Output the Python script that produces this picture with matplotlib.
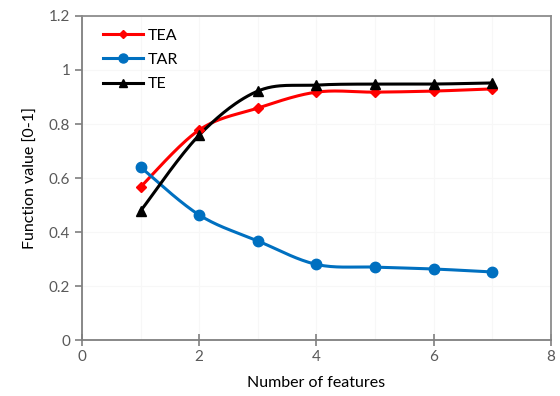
import numpy as np
import matplotlib
matplotlib.use("Agg")
import matplotlib.pyplot as plt

plt.rcParams["font.family"] = ["Lato", "DejaVu Sans"]

n_features = [1, 2, 3, 4, 5, 6, 7]
tea = [0.567, 0.778, 0.859, 0.918, 0.918, 0.922, 0.930]
tar = [0.640, 0.463, 0.367, 0.280, 0.270, 0.263, 0.252]
te = [0.478, 0.759, 0.922, 0.944, 0.948, 0.948, 0.952]

x_ticks = [0, 2, 4, 6, 8]
y_ticks = [0, 0.2, 0.4, 0.6, 0.8, 1.0, 1.2]
y_labels = ["0", "0.2", "0.4", "0.6", "0.8", "1", "1.2"]


def smooth(x, y, n=30):
    # Excel-style smoothed line: cubic Bezier segments with Catmull-Rom handles
    x = np.asarray(x, float)
    y = np.asarray(y, float)
    pts = np.column_stack([x, y])
    out = [pts[:1]]
    t = np.linspace(0, 1, n)[1:, None]
    for i in range(len(pts) - 1):
        p0 = pts[max(i - 1, 0)]
        p1, p2 = pts[i], pts[i + 1]
        p3 = pts[min(i + 2, len(pts) - 1)]
        c1 = p1 + (p2 - p0) / 6
        c2 = p2 - (p3 - p1) / 6
        seg = ((1 - t) ** 3) * p1 + 3 * ((1 - t) ** 2) * t * c1 \
            + 3 * (1 - t) * t ** 2 * c2 + t ** 3 * p2
        out.append(seg)
    arr = np.vstack(out)
    return arr[:, 0], arr[:, 1]


fig = plt.figure(figsize=(5.6, 3.96), dpi=100)
ax = fig.add_axes([0.1464, 0.1414, 0.8375, 0.8182])

series = [
    ("TEA", tea, "#ff0000", "D", 5),
    ("TAR", tar, "#0070c0", "o", 7.5),
    ("TE", te, "#000000", "^", 7),
]
for name, vals, color, marker, ms in series:
    sx, sy = smooth(n_features, vals)
    ax.plot(sx, sy, color=color, lw=2.2, zorder=3)
    ax.plot(n_features, vals, ls="none", marker=marker, ms=ms, color=color, zorder=4)
    ax.plot([], [], color=color, lw=2.2, marker=marker, ms=ms - 1, label=name)

ax.set_xlim(0, 8)
ax.set_ylim(0, 1.2)
ax.set_xticks(x_ticks)
ax.set_yticks(y_ticks)
ax.set_yticklabels(y_labels)
ax.set_xticks(np.arange(0, 8.01, 1), minor=True)
ax.grid(True, which="both", color="#f7f7f7", lw=0.8, zorder=0)

for side in ["left", "bottom"]:
    ax.spines[side].set_color("#7f7f7f")
    ax.spines[side].set_linewidth(1.3)
for side in ["top", "right"]:
    ax.spines[side].set_color("#8c8c8c")
    ax.spines[side].set_linewidth(1.3)

ax.tick_params(axis="both", which="major", colors="#7f7f7f", length=5, width=1.2,
               labelsize=11, labelcolor="#595959")
ax.tick_params(axis="x", which="major", direction="inout", length=8)
ax.tick_params(axis="x", which="minor", length=0)

ax.set_xlabel("Number of features", fontsize=11.5, labelpad=8)
ax.set_ylabel("Function value [0-1]", fontsize=11.5, labelpad=8)

ax.legend(loc="upper left", bbox_to_anchor=(0.015, 1.005), frameon=False, fontsize=11.5,
          handlelength=2.5, labelspacing=0.62, handletextpad=0.3)

fig.savefig("out.png", dpi=100)
